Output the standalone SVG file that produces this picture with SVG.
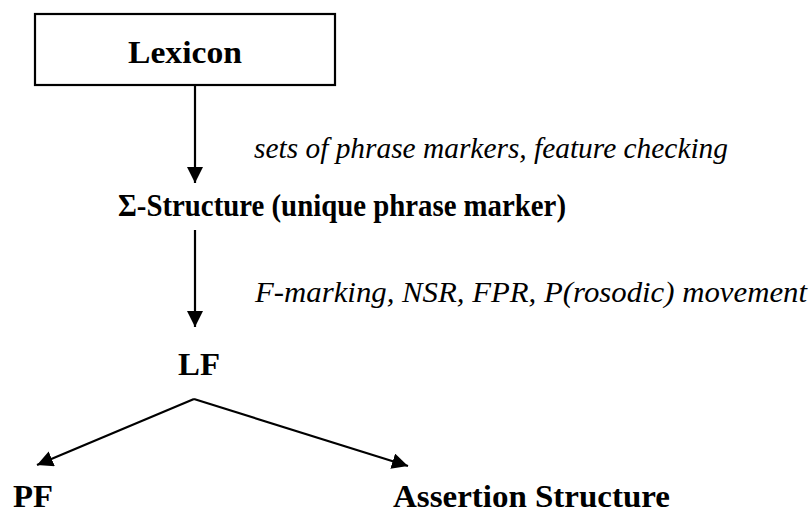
<svg xmlns="http://www.w3.org/2000/svg" width="811" height="514" viewBox="0 0 811 514">
<defs>
<style>
.b{font-family:"Liberation Serif","Times New Roman",serif;font-weight:bold;font-size:31px;fill:#000}
.i{font-family:"Liberation Serif","DejaVu Serif","Times New Roman",serif;font-style:italic;font-size:30px;fill:#000}
.c{stroke:#000;stroke-width:2.2;fill:none}
</style>
<marker id="ah" markerUnits="userSpaceOnUse" markerWidth="16" markerHeight="16" viewBox="0 0 16 16" refX="16" refY="8" orient="auto">
<path d="M0,0 L16,8 L0,16 z" fill="#000"/>
</marker>
</defs>
<rect width="811" height="514" fill="#fff"/>
<g id="lexicon">
<rect x="35" y="14" width="300" height="71" fill="#fff" stroke="#000" stroke-width="2.2"/>
<text class="b" x="185" y="63" text-anchor="middle" textLength="114" lengthAdjust="spacingAndGlyphs">Lexicon</text>
</g>
<g id="sigma">
<text class="b" x="118" y="216" textLength="448" lengthAdjust="spacingAndGlyphs">Σ-Structure (unique phrase marker)</text>
</g>
<g id="lf">
<text class="b" x="178" y="375" textLength="42" lengthAdjust="spacingAndGlyphs">LF</text>
</g>
<g id="pf">
<text class="b" x="13" y="507" textLength="40" lengthAdjust="spacingAndGlyphs">PF</text>
</g>
<g id="assertion">
<text class="b" x="393" y="507" textLength="277" lengthAdjust="spacingAndGlyphs">Assertion Structure</text>
</g>
<g id="connectors">
<line class="c" x1="195" y1="85" x2="195" y2="183" marker-end="url(#ah)"/>
<text class="i" x="254" y="158" textLength="474" lengthAdjust="spacingAndGlyphs">sets of phrase markers, feature checking</text>
<line class="c" x1="195" y1="230" x2="195" y2="327" marker-end="url(#ah)"/>
<text class="i" x="255" y="302" textLength="552" lengthAdjust="spacingAndGlyphs">F-marking, NSR, FPR, P(rosodic) movement</text>
<line class="c" x1="194" y1="399" x2="37" y2="465" marker-end="url(#ah)"/>
<line class="c" x1="194" y1="399" x2="408" y2="466" marker-end="url(#ah)"/>
</g>
</svg>
